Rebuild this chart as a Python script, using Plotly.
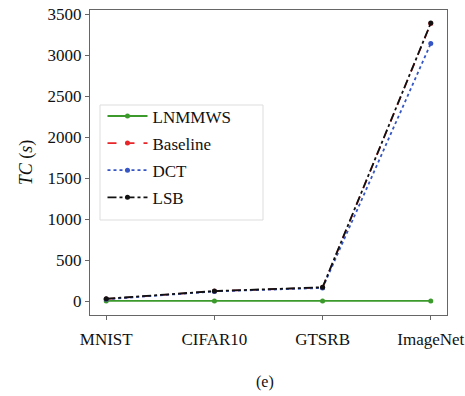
import plotly.graph_objects as go

categories = ["MNIST", "CIFAR10", "GTSRB", "ImageNet"]
lnmmws = [2, 2, 2, 2]
baseline = [25, 120, 165, 3385]
dct = [22, 118, 160, 3140]
lsb = [28, 122, 168, 3390]

xs = list(range(len(categories)))
font = "Liberation Serif"

fig = go.Figure()
series = [
    ("LNMMWS", lnmmws, "#3b9a2b", "solid", 1.8),
    ("Baseline", baseline, "#e8262a", "dash", 1.6),
    ("DCT", dct, "#3556c4", "dot", 1.8),
    ("LSB", lsb, "#111111", "dashdot", 1.8),
]
for name, vals, col, dash, w in series:
    fig.add_trace(go.Scatter(
        x=xs, y=vals, name=name, mode="lines+markers", legendgroup=name,
        line=dict(color=col, dash=dash, width=w),
        marker=dict(color=col, size=5),
    ))

fig.update_layout(
    width=465, height=396,
    margin=dict(l=90, r=18, t=10, b=81),
    paper_bgcolor="white", plot_bgcolor="white",
    font=dict(family=font, size=17, color="#111111"),
    showlegend=True,
    legend=dict(
        x=0.035, y=0.71, xanchor="left", yanchor="top",
        borderwidth=0, bgcolor="rgba(255,255,255,0)",
        font=dict(family=font, size=17), tracegroupgap=2,
        itemwidth=40,
    ),
    shapes=[dict(
        type="rect", xref="paper", yref="paper",
        x0=(100 - 90) / 357, x1=(263 - 90) / 357,
        y0=(315 - 220) / 305, y1=(315 - 105) / 305,
        line=dict(color="#dddddd", width=1), fillcolor="white", layer="above",
    )],
    xaxis=dict(
        range=[-0.15, 3.15], tickmode="array", tickvals=xs, ticktext=categories,
        showgrid=False, zeroline=False, showline=True, mirror=True,
        linecolor="#666666", linewidth=1.2, ticks="outside", ticklen=4,
        tickcolor="#666666", tickfont=dict(family=font, size=17),
        ticklabelstandoff=4, automargin=False,
    ),
    yaxis=dict(
        range=[-170, 3550], tickmode="array",
        tickvals=[0, 500, 1000, 1500, 2000, 2500, 3000, 3500],
        showgrid=False, zeroline=False, showline=True, mirror=True,
        linecolor="#666666", linewidth=1.2, ticks="outside", ticklen=4,
        tickcolor="#666666", tickfont=dict(family=font, size=17),
        title=dict(text="<i>TC</i> (<i>s</i>)", font=dict(family=font, size=18), standoff=10),
        automargin=False,
    ),
    annotations=[dict(
        text="(e)", x=0.49, y=-(382 - 315) / 305, xref="paper", yref="paper",
        showarrow=False, yanchor="middle",
        font=dict(family=font, size=16),
    )],
)

fig.write_html("out.html")
